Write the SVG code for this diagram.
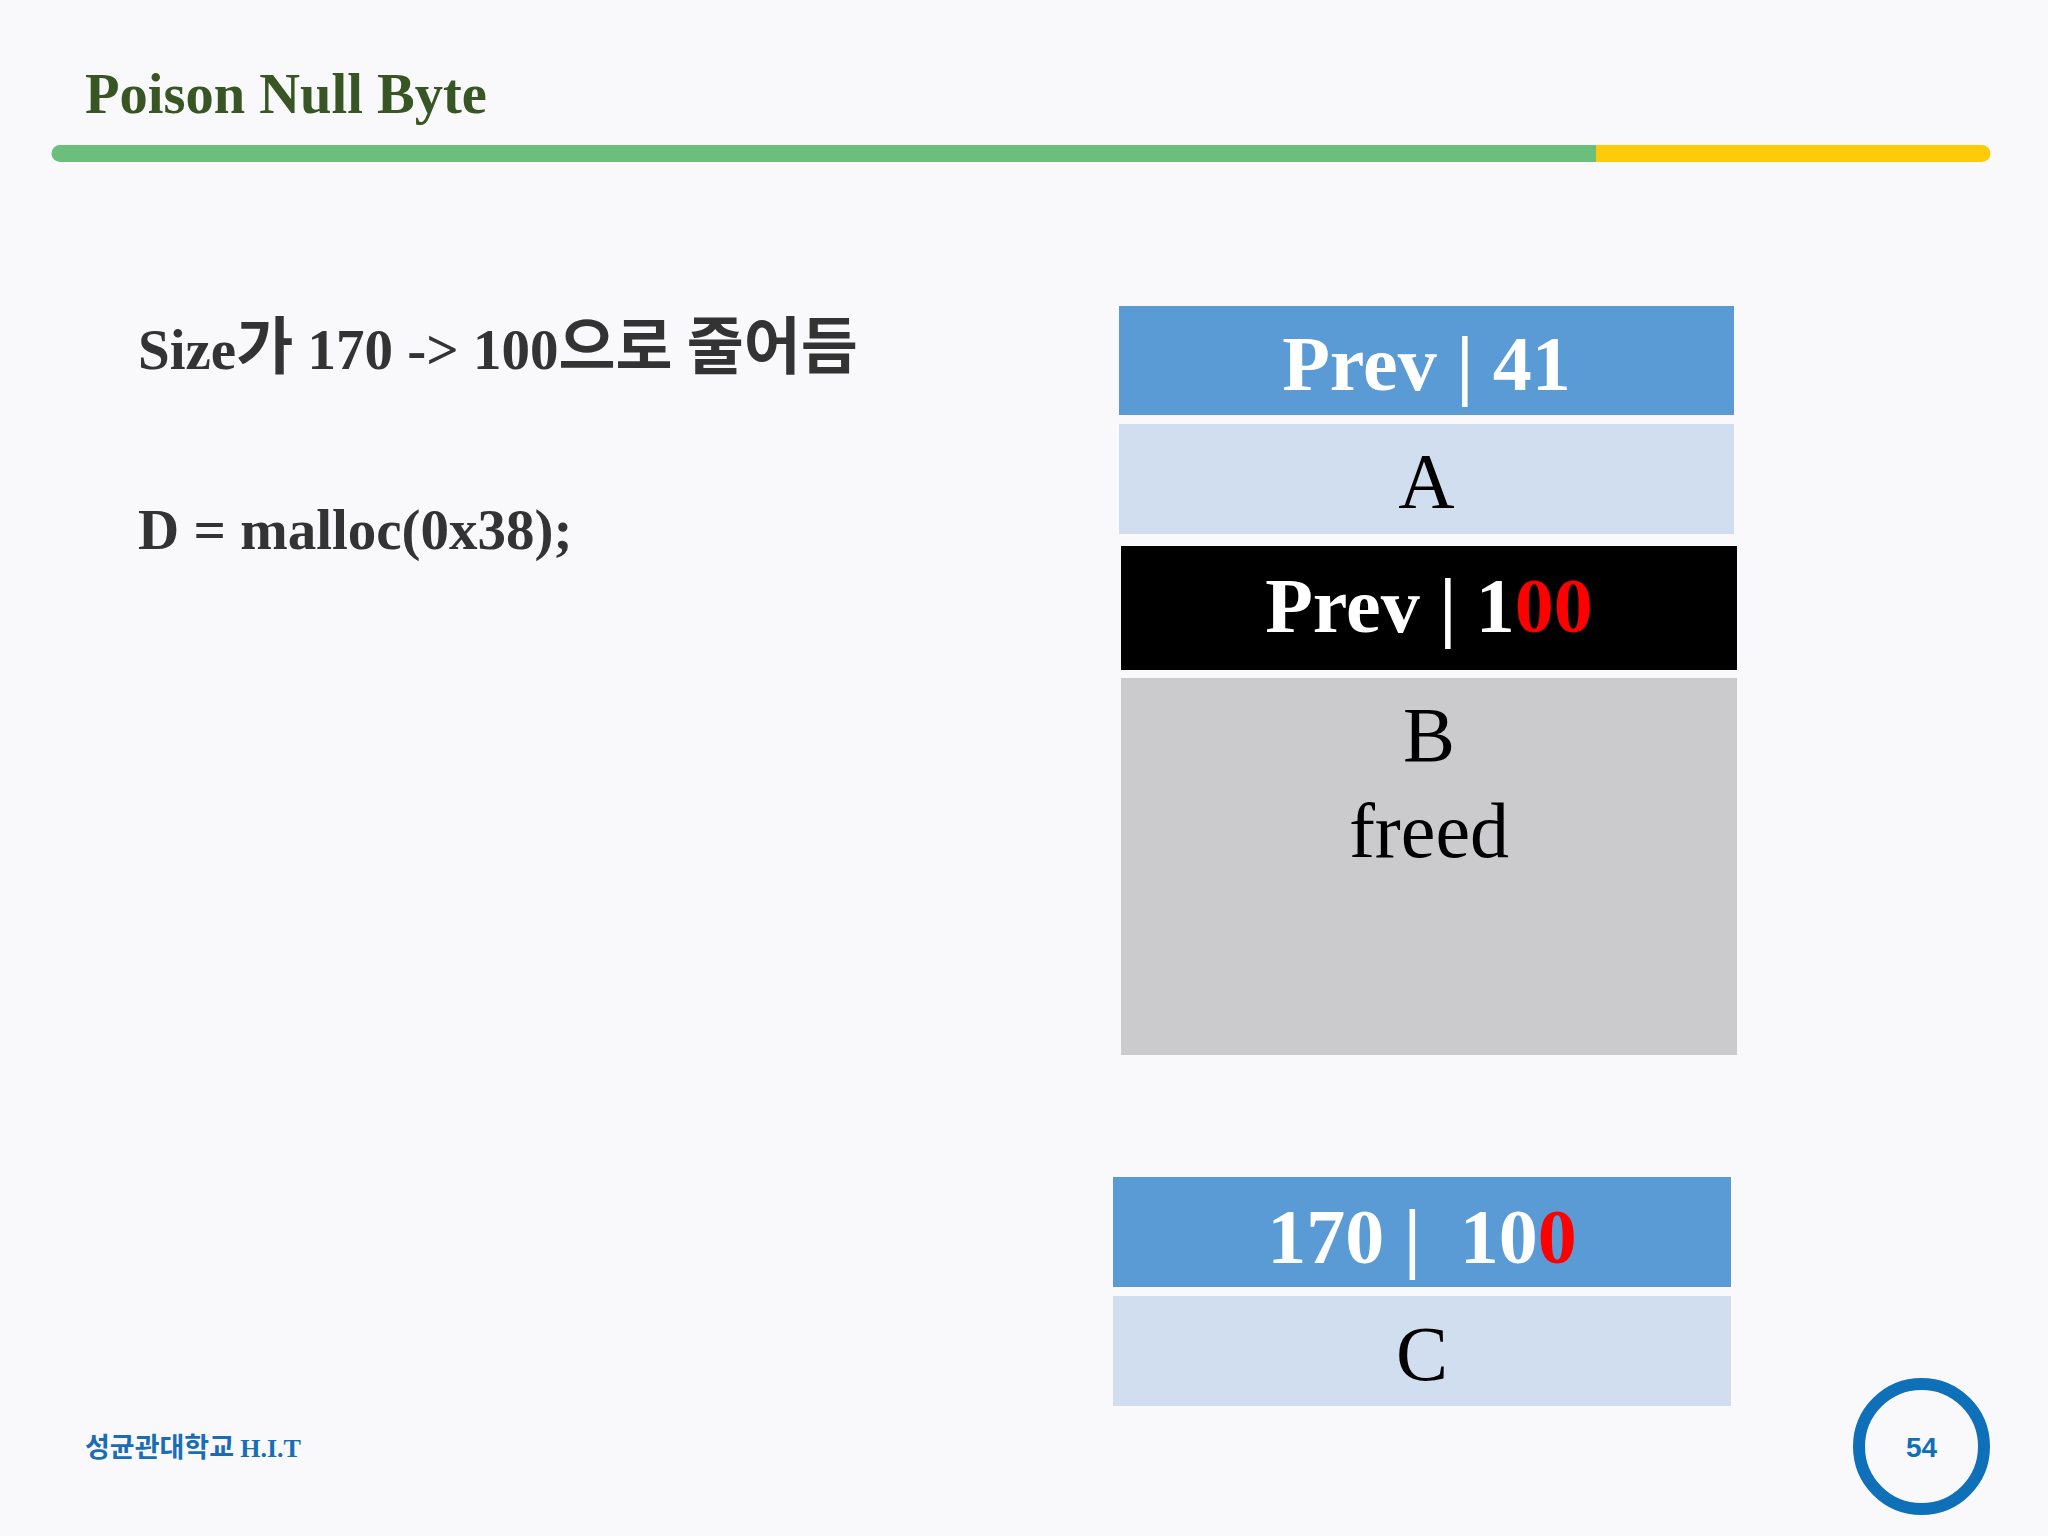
<svg xmlns="http://www.w3.org/2000/svg" width="2048" height="1536" viewBox="0 0 2048 1536">
<style>
.serif{font-family:"Liberation Serif","Noto Sans CJK KR",serif}
.ko{font-family:"Noto Sans CJK KR",sans-serif}
.bold{font-weight:bold}
.white{fill:#ffffff}
.red{fill:#ff0000}
.blk{fill:#000000}
.big{font-size:78px;text-anchor:middle}
.body{font-size:57px;fill:#333333;font-weight:bold}
.hdr{fill:#5b9bd5}
.lite{fill:#d0deef}
.gray{fill:#cbcbce}
</style>
<rect x="0" y="0" width="2048" height="1536" fill="#f9f9fb"/>
<g id="header">
<text x="85" y="113" class="serif bold" font-size="56.5" fill="#375623">Poison Null Byte</text>
<line x1="60" y1="153.5" x2="1596" y2="153.5" stroke="#6bbf7a" stroke-width="17" stroke-linecap="round"/>
<rect x="1596" y="145" width="386" height="17" fill="#fecb0a"/>
<circle cx="1982" cy="153.5" r="8.5" fill="#fecb0a"/>
</g>
<g id="notes">
<text x="138" y="369" class="serif body">Size<tspan class="ko" font-size="62">가</tspan> 170 -&gt; 100<tspan class="ko" font-size="62">으로</tspan> <tspan class="ko" font-size="62">줄어듬</tspan></text>
<text x="138" y="549" class="serif body">D = malloc(0x38);</text>
</g>
<g id="node-prev41">
<rect x="1119" y="306" width="615" height="109" class="hdr"/>
<text x="1426.5" y="390" class="serif bold big white">Prev | 41</text>
</g>
<g id="node-A">
<rect x="1119" y="424" width="615" height="110" class="lite"/>
<text x="1426.5" y="507" class="serif big blk" font-size="80">A</text>
</g>
<g id="node-prev100">
<rect x="1121" y="546" width="616" height="124" fill="#000000"/>
<text x="1429" y="632" class="serif bold big white">Prev | 1<tspan class="red">00</tspan></text>
</g>
<g id="node-B">
<rect x="1121" y="678" width="616" height="377" class="gray"/>
<text x="1429" y="761" class="serif big blk" font-size="80">B</text>
<text x="1429" y="857" class="serif big blk" font-size="80">freed</text>
</g>
<g id="node-170">
<rect x="1113" y="1177" width="618" height="110" class="hdr"/>
<text x="1422" y="1263" class="serif bold big white" xml:space="preserve">170 |  10<tspan class="red">0</tspan></text>
</g>
<g id="node-C">
<rect x="1113" y="1296" width="618" height="110" class="lite"/>
<text x="1422" y="1380" class="serif big blk" font-size="80">C</text>
</g>
<g id="connectors"></g>
<g id="footer">
<text x="85" y="1457" font-size="27" font-weight="bold" fill="#1a6db5" font-family="'Noto Sans CJK KR',sans-serif">성균관대학교 <tspan font-family="'Liberation Serif',serif" font-size="26">H.I.T</tspan></text>
<circle cx="1921.5" cy="1446.5" r="62.5" fill="none" stroke="#0e70b8" stroke-width="12"/>
<text x="1921.5" y="1457" text-anchor="middle" font-family="'Liberation Sans',sans-serif" font-weight="bold" font-size="28" fill="#0e70b8">54</text>
</g>
</svg>
